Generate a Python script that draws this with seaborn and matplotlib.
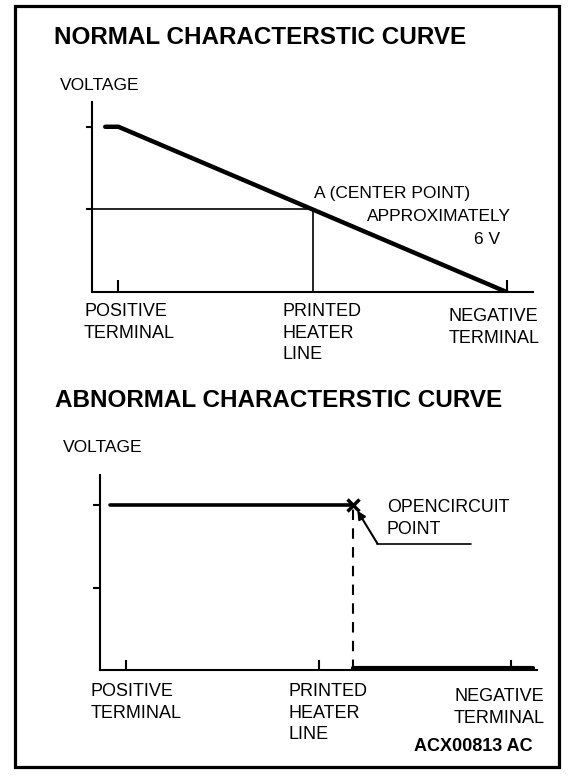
import matplotlib
matplotlib.use("Agg")
import matplotlib.pyplot as plt
import matplotlib.patches as patches
import seaborn as sns

sns.set_style("white")
plt.rcParams['font.family'] = ['Liberation Sans', 'DejaVu Sans']
plt.rcParams['text.color'] = 'black'

# positions along the heater line (0 = left edge, 100 = right edge), voltage in V
positions = [6, 50, 94]
pos_labels = ["POSITIVE\nTERMINAL", "PRINTED\nHEATER\nLINE", "NEGATIVE\nTERMINAL"]

# normal curve
normal_x = [3, 6, 94]
normal_v = [12, 12, 0]
center_x = 50
center_v = 6

# abnormal curve
abnormal_x = [2.3, 58]
abnormal_v = [12, 12]
open_x = 58
open_v = 12
after_x = [58, 99]
after_v = [0.15, 0.15]

W, H = 576, 778
fig = plt.figure(figsize=(W / 100, H / 100), dpi=100)


def fx(px):
    return px / W


def fy(py):
    return 1 - py / H


def txt(px, py, s, **kw):
    fig.text(fx(px), fy(py), s, va="top", ha="left", color="black", **kw)


# outer frame
fig.add_artist(patches.Rectangle((fx(15), fy(767)), fx(559) - fx(15), fy(6) - fy(767),
                                 transform=fig.transFigure, fill=False, lw=2.3, ec="black"))

# ---------- normal ----------
ax1 = fig.add_axes([fx(92), fy(292), fx(533) - fx(92), fy(102) - fy(292)])
sns.lineplot(x=normal_x, y=normal_v, ax=ax1, color="black", lw=3.2,
             estimator=None, sort=False)
sns.lineplot(x=[0, center_x], y=[center_v, center_v], ax=ax1, color="black", lw=1.2,
             estimator=None, sort=False)
sns.lineplot(x=[center_x, center_x], y=[0, center_v], ax=ax1, color="black", lw=1.2,
             estimator=None, sort=False)
ax1.set_xlim(0, 100)
ax1.set_ylim(0, 13.8)
ax1.set_xticks([positions[0], positions[2]])
ax1.set_yticks([6, 12])
ax1.tick_params(axis="x", bottom=True, direction="in", length=9, width=1.5,
                color="black", labelbottom=False)
ax1.tick_params(axis="y", left=True, direction="out", length=4, width=1.5,
                color="black", labelleft=False)

txt(54, 26, "NORMAL CHARACTERSTIC CURVE", fontsize=17.5, fontweight="bold")
txt(60, 78, "VOLTAGE", fontsize=12.5)
txt(314, 186, "A (CENTER POINT)", fontsize=12.5)
txt(367, 209, "APPROXIMATELY", fontsize=12.5)
txt(474, 232, "6 V", fontsize=12.5)
for p, lab, px, py in zip(positions, pos_labels, [84, 283, 449], [303, 303, 308]):
    txt(px, py, lab, fontsize=13, linespacing=1.35)

# ---------- abnormal ----------
ax2 = fig.add_axes([fx(100), fy(670), fx(537) - fx(100), fy(475) - fy(670)])
sns.lineplot(x=abnormal_x, y=abnormal_v, ax=ax2, color="black", lw=2.6,
             estimator=None, sort=False)
sns.lineplot(x=[open_x, open_x], y=[0, open_v - 0.2], ax=ax2, color="black", lw=1.5,
             estimator=None, sort=False, linestyle=(0, (5, 4)))
sns.lineplot(x=after_x, y=after_v, ax=ax2, color="black", lw=3,
             estimator=None, sort=False)
ax2.plot([open_x], [open_v], marker="x", ms=9, mew=2.5, color="black")
sns.lineplot(x=[85, 63.5], y=[9.2, 9.2], ax=ax2, color="black", lw=1.2,
             estimator=None, sort=False)
ax2.annotate("", xy=(58.9, 11.6), xytext=(63.5, 9.2),
             arrowprops=dict(arrowstyle="-|>", color="black", lw=1.5, mutation_scale=12,
                             shrinkA=0, shrinkB=0))
ax2.set_xlim(0, 100)
ax2.set_ylim(0, 14.2)
ax2.set_xticks(positions)
ax2.set_yticks([6, 12])
ax2.tick_params(axis="x", bottom=True, direction="in", length=7, width=1.5,
                color="black", labelbottom=False)
ax2.tick_params(axis="y", left=True, direction="out", length=5, width=1.5,
                color="black", labelleft=False)

txt(55, 389, "ABNORMAL CHARACTERSTIC CURVE", fontsize=17.5, fontweight="bold")
txt(63, 440, "VOLTAGE", fontsize=12.5)
txt(387, 499, "OPENCIRCUIT\nPOINT", fontsize=12.8, linespacing=1.35)
for p, lab, px, py in zip(positions, pos_labels, [91, 289, 454], [683, 683, 688]):
    txt(px, py, lab, fontsize=13, linespacing=1.35)

txt(414, 738, "ACX00813 AC", fontsize=13, fontweight="bold")

for ax in (ax1, ax2):
    ax.set_facecolor("none")
    for side in ("top", "right"):
        ax.spines[side].set_visible(False)
    for side in ("left", "bottom"):
        ax.spines[side].set_color("black")
        ax.spines[side].set_linewidth(1.5)

fig.savefig("out.png", dpi=100)
